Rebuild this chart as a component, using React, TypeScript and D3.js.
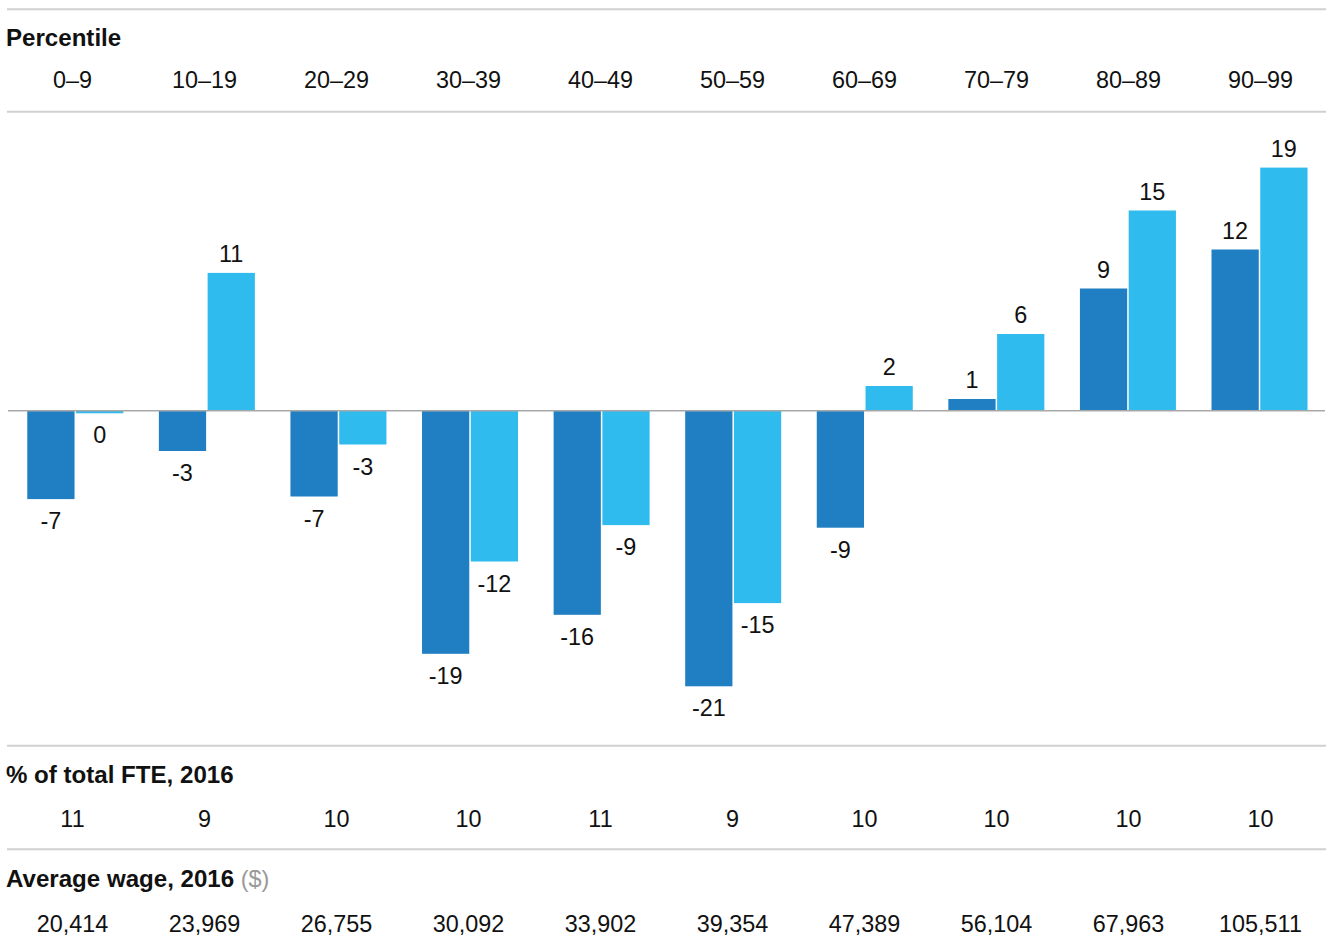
import React from "react";
import * as d3 from "d3";

const categories = ["0–9", "10–19", "20–29", "30–39", "40–49", "50–59", "60–69", "70–79", "80–89", "90–99"];
const seriesDark = [-6.8, -3.1, -6.6, -18.7, -15.7, -21.2, -9.0, 0.9, 9.4, 12.4];
const seriesLight = [-0.2, 10.6, -2.6, -11.6, -8.8, -14.8, 1.9, 5.9, 15.4, 18.7];
const fteShare = ["11", "9", "10", "10", "11", "9", "10", "10", "10", "10"];
const avgWage = ["20,414", "23,969", "26,755", "30,092", "33,902", "39,354", "47,389", "56,104", "67,963", "105,511"];
const seriesKeys = ["dark", "light"];
const seriesColors: Record<string, string> = { dark: "#1F7FC2", light: "#2FBBEE" };

const W = 1336;
const H = 947;
const FONT = "'Liberation Sans', Arial, Helvetica, sans-serif";
const FS = 23.4;
const FSB = 24.1;

export default function App() {
  const zeroY = 410.7;
  const k = 13;
  const y = d3.scaleLinear().domain([0, 1]).range([zeroY, zeroY - k]);

  const step = 131.58;
  const x0 = d3
    .scaleBand<string>()
    .domain(categories)
    .range([9.5, 9.5 + step * 10])
    .paddingInner(1 - 96 / step)
    .paddingOuter((1 - 96 / step) / 2);
  const x1 = d3.scaleBand<string>().domain(seriesKeys).range([0, x0.bandwidth()]).paddingInner(0.031);

  const xt = d3.scaleBand<string>().domain(categories).range([6.5, 1326.5]);
  const tc = (c: string) => (xt(c) as number) + xt.bandwidth() / 2;

  const ruleX1 = 7;
  const ruleX2 = 1326;
  const rules = [9.3, 111.7, 745.7, 849.3];

  const bars: { key: string; cat: string; v: number }[] = [];
  categories.forEach((c, i) => {
    bars.push({ key: "dark", cat: c, v: seriesDark[i] });
    bars.push({ key: "light", cat: c, v: seriesLight[i] });
  });

  return (
    <svg
      width={W}
      height={H}
      style={{ position: "absolute", left: 0, top: 0, background: "#fff" }}
      fontFamily={FONT}
    >
      {rules.map((ry, i) => (
        <line key={i} x1={ruleX1} x2={ruleX2} y1={ry} y2={ry} stroke="#d0d0d0" strokeWidth={2} />
      ))}
      <text x={6} y={46} fontSize={FSB} fontWeight="bold" fill="#111">
        Percentile
      </text>
      {categories.map((c) => (
        <text key={c} x={tc(c)} y={88.3} fontSize={FS} textAnchor="middle" fill="#111">
          {c}
        </text>
      ))}

      {bars.map((b, i) => {
        const bx = (x0(b.cat) as number) + (x1(b.key) as number);
        const bw = x1.bandwidth();
        const top = Math.min(y(b.v), y(0));
        const h = Math.abs(y(b.v) - y(0));
        return (
          <rect key={i} x={bx} y={top} width={bw} height={h} fill={seriesColors[b.key]} />
        );
      })}
      <line x1={8} x2={1325} y1={zeroY} y2={zeroY} stroke="#a8a8a8" strokeWidth={1.6} />
      {bars.map((b, i) => {
        const bx = (x0(b.cat) as number) + (x1(b.key) as number) + x1.bandwidth() / 2;
        const ty = b.v >= 0 ? y(b.v) - 11 : y(b.v) + 30;
        return (
          <text key={"l" + i} x={bx} y={ty} fontSize={FS} textAnchor="middle" fill="#111">
            {String(Math.round(b.v))}
          </text>
        );
      })}

      <text x={6} y={783.3} fontSize={FSB} fontWeight="bold" fill="#111">
        % of total FTE, 2016
      </text>
      {categories.map((c, i) => (
        <text key={"f" + c} x={tc(c)} y={826.7} fontSize={FS} textAnchor="middle" fill="#111">
          {fteShare[i]}
        </text>
      ))}
      <text x={6} y={886.7} fill="#111">
        <tspan fontSize={FSB} fontWeight="bold">Average wage, 2016</tspan>
        <tspan fontSize={FS} fill="#999"> ($)</tspan>
      </text>
      {categories.map((c, i) => (
        <text key={"w" + c} x={tc(c)} y={931.7} fontSize={FS} textAnchor="middle" fill="#111">
          {avgWage[i]}
        </text>
      ))}
    </svg>
  );
}
